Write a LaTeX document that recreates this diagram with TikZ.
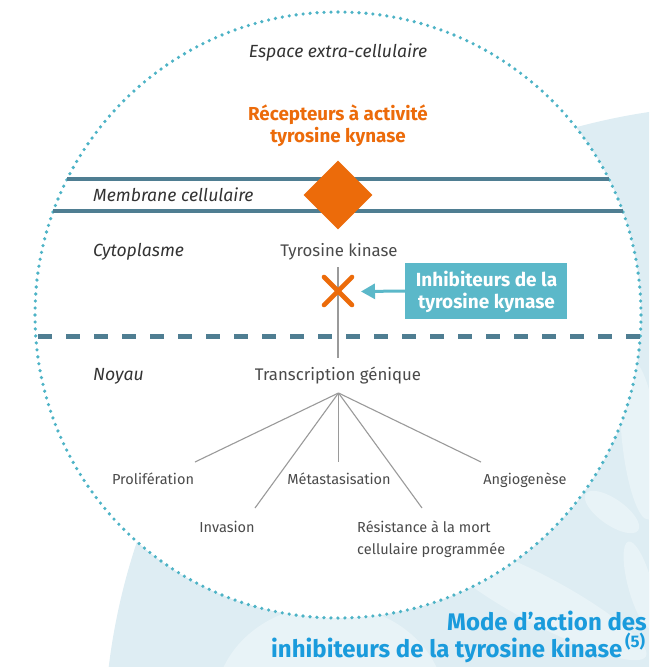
\documentclass[tikz,border=0pt]{standalone}
\usepackage{fontspec}
\setmainfont{Fira Sans}
\usetikzlibrary{arrows.meta,shapes.geometric}
\definecolor{bgblue}{HTML}{DEEDF3}
\definecolor{petal}{HTML}{E8F3F7}
\definecolor{dotblue}{HTML}{4DB3C6}
\definecolor{memb}{HTML}{4F7E92}
\definecolor{rtkorange}{HTML}{EC6B0A}
\definecolor{boxblue}{HTML}{5BB8C9}
\definecolor{titleblue}{HTML}{1A9BDC}
\definecolor{txtgray}{HTML}{4A4A4A}
\definecolor{itgray}{HTML}{333333}
\definecolor{linegray}{HTML}{9A9A9A}
\tikzset{
  plain/.style={font=\fontsize{14.5}{17}\selectfont, text=txtgray, inner sep=0pt},
  bigplain/.style={font=\fontsize{16.8}{20}\selectfont, text=txtgray, inner sep=0pt},
  labit/.style={font=\itshape\fontsize{17.6}{20}\selectfont, text=itgray, inner sep=0pt},
  membline/.style={draw=memb, line width=4.4pt},
  dotcircle/.style={draw=dotblue, line width=3.6pt, line cap=round, dash pattern=on 0pt off 7pt},
  grayline/.style={draw=linegray, line width=1.1pt},
  crossline/.style={draw=rtkorange, line width=4.6pt, line cap=round},
  titletext/.style={anchor=base west, inner sep=0pt, text=titleblue},
}
\begin{document}
\begin{tikzpicture}[x=1pt,y=-1pt]
\useasboundingbox (0,0) rectangle (649,667);
% background decoration
\begin{scope}
  \clip (0,0) rectangle (649,667);
  \fill[bgblue] (744,745) circle (640pt);
  \fill[petal] (330,705) ellipse (115pt and 100pt);
  \fill[petal, rotate around={-28:(540,600)}] (540,600) ellipse (120pt and 24pt);
  \fill[petal, rotate around={6:(640,440)}] (640,440) ellipse (18pt and 80pt);
  \fill[petal, rotate around={-35:(612,512)}] (612,512) ellipse (32pt and 13pt);
  \fill[petal, rotate around={15:(640,585)}] (640,585) ellipse (12pt and 45pt);
\end{scope}
% cell circle
\coordinate (cc) at (338,315);
\fill[white] (cc) circle (303pt);
\draw[dotcircle] (cc) circle (303pt);
% membranes
\coordinate (m1l) at (67,179); \coordinate (m1r) at (609,179);
\coordinate (m2l) at (53,211); \coordinate (m2r) at (623,211);
\draw[membline] (m1l) -- (m1r);
\draw[membline] (m2l) -- (m2r);
% nuclear envelope
\coordinate (nl) at (38,336); \coordinate (nr) at (640,336);
\draw[draw=memb, line width=5pt, dash pattern=on 14pt off 14pt] (nl) -- (nr);
% receptor
\node[diamond, fill=rtkorange, minimum size=69pt, inner sep=0pt] (rtk) at (338,195) {};
% labels
\node[labit, anchor=base] (espace) at (338,57) {Espace extra-cellulaire};
\node[anchor=base, inner sep=0pt, text=rtkorange, font=\bfseries\fontsize{18.8}{21.7}\selectfont, align=center] (recep) at (338,142) {Récepteurs à activité\\tyrosine kynase};
\node[labit, anchor=base west] (membrane) at (93,201) {Membrane cellulaire};
\node[labit, anchor=base west] (cyto) at (93,256) {Cytoplasme};
\node[labit, anchor=base west] (noyau) at (93,380) {Noyau};
\node[bigplain, anchor=base] (tk) at (339,256) {Tyrosine kinase};
\node[bigplain, anchor=base] (tc) at (338,380) {Transcription génique};
% signal line
\coordinate (vtop) at (338,267); \coordinate (vbot) at (338,358);
\draw[grayline] (vtop) -- (vbot);
% inhibition cross
\coordinate (x1) at (324,277); \coordinate (x2) at (352,305);
\coordinate (x3) at (324,305); \coordinate (x4) at (352,277);
\draw[crossline] (x1) -- (x2);
\draw[crossline] (x3) -- (x4);
% inhibitor box
\node[fill=boxblue, minimum width=162pt, minimum height=56pt, inner sep=0pt] (inhib) at (486,291) {};
\node[anchor=base, inner sep=0pt, text=white, align=center, font=\bfseries\fontsize{19}{22}\selectfont] (inhibtxt) at (486.5,308) {Inhibiteurs de la\\tyrosine kynase};
\coordinate (tip) at (361,291.5);
\draw[boxblue, line width=3pt, -{Triangle[length=14pt,width=15pt]}] (inhib.west) -- (tip);
% fan
\coordinate (fan) at (338.5,393);
\coordinate (e1) at (195,462); \coordinate (e2) at (255,508);
\coordinate (e3) at (338.5,462); \coordinate (e4) at (422,508);
\coordinate (e5) at (481,462);
\foreach \e in {e1,e2,e3,e4,e5} \draw[grayline] (fan) -- (\e);
\node[plain, anchor=base] (prolif) at (153,484) {Prolifération};
\node[plain, anchor=base] (meta) at (339,484) {Métastasisation};
\node[plain, anchor=base] (angio) at (525,484) {Angiogenèse};
\node[plain, anchor=base] (inva) at (227,532) {Invasion};
\node[plain, anchor=base west, align=left, font=\fontsize{14.5}{22}\selectfont] (resist) at (357,554) {Résistance à la mort\\cellulaire programmée};
% title
\node[titletext, font=\bfseries\fontsize{24}{28}\selectfont] (title1) at (447,630) {Mode d’action des};
\node[titletext, font=\bfseries\fontsize{24}{28}\selectfont] (title2) at (271,657) {inhibiteurs de la tyrosine kinase\textsuperscript{\,(5)}};
\end{tikzpicture}
\end{document}
